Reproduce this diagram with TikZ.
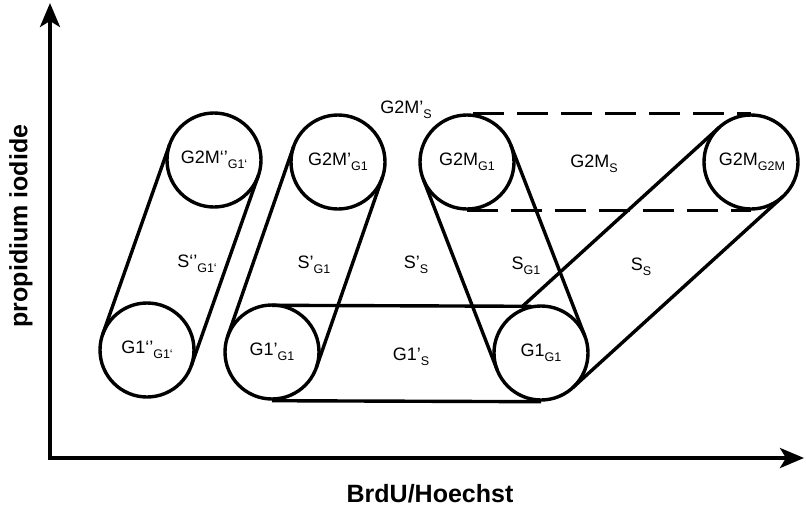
\documentclass[tikz,border=0pt]{standalone}
\usepackage{fontspec}
\setmainfont{Liberation Sans}
\usetikzlibrary{calc,arrows.meta}
\newcommand\lbl[2]{#1\raisebox{-0.3em}{\fontsize{12.5}{13}\selectfont #2}}
\begin{document}
\begin{tikzpicture}[x=1pt,y=-1pt,
  cell/.style={circle, draw, line width=3.4pt, minimum size=94pt, inner sep=0pt},
  band/.style={line width=3.4pt},
  dashline/.style={line width=3.4pt, dash pattern=on 31pt off 13pt},
  lab/.style={font=\fontsize{18}{20}\selectfont, inner sep=0pt},
  axlabel/.style={font=\fontsize{25}{28}\selectfont\bfseries, inner sep=0pt},
  axis/.style={line width=3.8pt, line join=miter,
    {Stealth[length=24pt,width=20pt,inset=6pt]}-{Stealth[length=24pt,width=20pt,inset=6pt]}}]
\useasboundingbox (0,0) rectangle (806,509);

% axes
\coordinate (O) at (50,458);
\coordinate (Ytip) at (50,3);
\coordinate (Xtip) at (804,458);
\draw[axis] (Ytip) -- (O) -- (Xtip);
\node[axlabel, rotate=90] (ylab) at (21,226) {propidium iodide};
\node[axlabel] (xlab) at (430,494) {BrdU/Hoechst};

% circles
\node[cell] (A) at (214,160) {};
\node[cell] (B) at (147,350) {};
\node[cell] (C) at (338,162) {};
\node[cell] (D) at (272,352) {};
\node[cell] (E) at (467,162) {};
\node[cell] (F) at (541,353) {};
\node[cell] (G) at (751,162) {};

\node[lab] (tA) at (A) {\lbl{G2M‘’}{G1‘}};
\node[lab] (tB) at (B) {\lbl{G1‘’}{G1‘}};
\node[lab] (tC) at (C) {\lbl{G2M’}{G1}};
\node[lab] (tD) at (D) {\lbl{G1’}{G1}};
\node[lab] (tE) at (E) {\lbl{G2M}{G1}};
\node[lab] (tF) at (F) {\lbl{G1}{G1}};
\node[lab] (tG) at (752,162) {\lbl{G2M}{G2M}};

% A-B band
\draw[band] ($(B)!47pt!90:(A)$) -- ($(A)!47pt!-90:(B)$);
\draw[band] ($(B)!47pt!-90:(A)$) -- ($(A)!47pt!90:(B)$);
% C-D band
\draw[band] ($(D)!47pt!90:(C)$) -- ($(C)!47pt!-90:(D)$);
\draw[band] ($(D)!47pt!-90:(C)$) -- ($(C)!47pt!90:(D)$);
% E-F band
\draw[band] ($(E)!47pt!90:(F)$) -- ($(F)!47pt!-90:(E)$);
\draw[band] ($(E)!47pt!-90:(F)$) -- ($(F)!47pt!90:(E)$);
% D-F band
\draw[band] ([yshift=-2pt]D.north) -- ([yshift=-2pt,xshift=-10pt]F.north);
\draw[band] (D.south) -- (F.south);
% F-G band
\coordinate (Gul) at ($(G)!47pt!-90:(F)$);
\coordinate (Ful) at ($(F)!47pt!90:(G)$);
\coordinate (Fcut) at ($(Gul)!0.935!(Ful)$);
\draw[band] (Gul) -- (Fcut);
\draw[band] ($(F)!47pt!-90:(G)$) -- ($(G)!47pt!90:(F)$);
% E-G dashed band
\draw[dashline, dash phase=38pt] (E.north) -- (G.north);
\draw[dashline] (E.south) -- (G.south);

% region labels
\node[lab] (l1) at (406,110) {\lbl{G2M’}{S}};
\node[lab] (l2) at (197,264) {\lbl{S‘’}{G1‘}};
\node[lab] (l3) at (314,265) {\lbl{S’}{G1}};
\node[lab] (l4) at (416,265) {\lbl{S’}{S}};
\node[lab] (l5) at (411,357) {\lbl{G1’}{S}};
\node[lab] (l6) at (526,266) {\lbl{S}{G1}};
\node[lab] (l7) at (641,267) {\lbl{S}{S}};
\node[lab] (l8) at (594,164) {\lbl{G2M}{S}};
\end{tikzpicture}
\end{document}
